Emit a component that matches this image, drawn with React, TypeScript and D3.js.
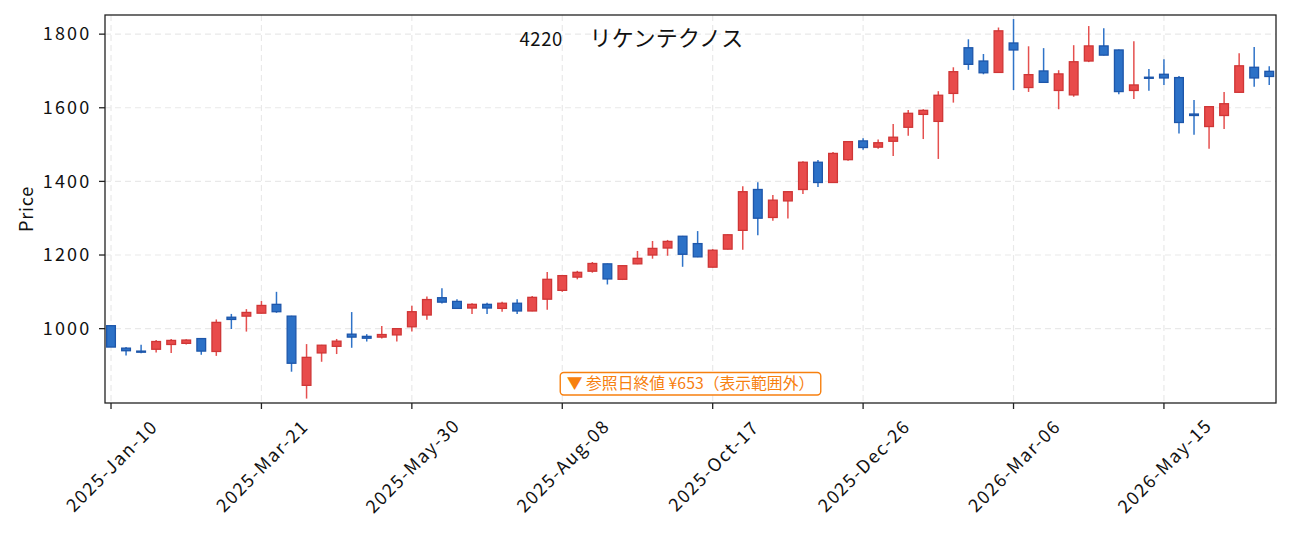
import React, { useEffect, useRef } from 'react';
import * as d3 from 'd3';

// weekly OHLC, one entry per week starting 2025-Jan-10
const opens = [
  1008, 947, 939, 944, 957, 960, 973, 938, 1031, 1034, 1042, 1066, 1034, 846, 934, 952, 985, 979, 977, 983,
  1005, 1037, 1084, 1074, 1056, 1066, 1055, 1069, 1048, 1080, 1104, 1140, 1156, 1176, 1134, 1176, 1200, 1219, 1251, 1231,
  1167, 1216, 1267, 1378, 1302, 1347, 1378, 1452, 1397, 1459, 1510, 1493, 1509, 1547, 1582, 1563, 1639, 1763, 1727, 1696,
  1776, 1655, 1700, 1647, 1635, 1727, 1768, 1757, 1647, 1683, 1691, 1682, 1583, 1549, 1579, 1642, 1710, 1699,
];
const highs = [
  1010, 950, 956, 969, 972, 971, 974, 1025, 1040, 1053, 1075, 1100, 1035, 958, 956, 972, 1045, 985, 1007, 1001,
  1062, 1087, 1110, 1080, 1069, 1070, 1073, 1080, 1089, 1154, 1146, 1157, 1181, 1177, 1172, 1211, 1238, 1241, 1252, 1265,
  1216, 1256, 1387, 1398, 1363, 1373, 1455, 1458, 1480, 1509, 1517, 1514, 1556, 1594, 1596, 1645, 1710, 1786, 1746, 1818,
  1841, 1767, 1762, 1702, 1770, 1822, 1816, 1758, 1781, 1705, 1732, 1686, 1621, 1604, 1643, 1748, 1765, 1713,
];
const lows = [
  950, 927, 933, 935, 934, 957, 929, 926, 999, 992, 1041, 1043, 883, 810, 910, 931, 948, 965, 973, 965,
  992, 1024, 1068, 1054, 1040, 1040, 1046, 1040, 1047, 1051, 1100, 1134, 1152, 1120, 1132, 1175, 1190, 1198, 1168, 1194,
  1166, 1215, 1214, 1254, 1293, 1299, 1366, 1385, 1396, 1456, 1486, 1489, 1469, 1524, 1515, 1461, 1614, 1703, 1691, 1695,
  1648, 1643, 1668, 1596, 1630, 1724, 1742, 1637, 1624, 1646, 1662, 1530, 1527, 1489, 1542, 1641, 1657, 1662,
];
const closes = [
  950, 940, 936, 965, 968, 969, 939, 1017, 1025, 1044, 1063, 1046, 906, 922, 955, 966, 977, 974, 984, 1000,
  1046, 1079, 1072, 1055, 1066, 1056, 1069, 1048, 1085, 1134, 1144, 1153, 1177, 1135, 1171, 1191, 1218, 1237, 1202, 1195,
  1213, 1255, 1372, 1300, 1349, 1372, 1452, 1397, 1476, 1508, 1492, 1505, 1520, 1585, 1593, 1634, 1698, 1718, 1695, 1809,
  1757, 1690, 1669, 1692, 1725, 1768, 1743, 1644, 1662, 1680, 1681, 1560, 1579, 1603, 1611, 1714, 1681, 1685,
];

const tickWeeks = [0, 10, 20, 30, 40, 50, 60, 70];
const tickLabels = [
  '2025-Jan-10', '2025-Mar-21', '2025-May-30', '2025-Aug-08',
  '2025-Oct-17', '2025-Dec-26', '2026-Mar-06', '2026-May-15',
];
const priceTicks = [1000, 1200, 1400, 1600, 1800];

const titleCode = '4220';
const titleName = 'リケンテクノス';
const note = '▼ 参照日終値 ¥653（表示範囲外）';

const W = 1291;
const H = 533;
const font = '"Noto Sans CJK JP", "Noto Sans", sans-serif';

const upFill = '#e84b4b';
const upEdge = '#cf3636';
const downFill = '#2c71c7';
const downEdge = '#1d56aa';
const orange = '#f7800f';

const CandleChart: React.FC = () => {
  const ref = useRef<SVGSVGElement | null>(null);

  useEffect(() => {
    if (!ref.current) return;
    const svg = d3.select(ref.current);
    svg.selectAll('*').remove();

    const left = 105, right = 1276, top = 15, bottom = 403;
    const x = d3.scaleLinear().domain([-0.4, opens.length - 0.55]).range([left, right]);
    const y = d3.scaleLinear().domain([798, 1852]).range([bottom, top]);
    const step = x(1) - x(0);
    const bodyW = step * 0.58;

    svg.append('rect').attr('width', W).attr('height', H).attr('fill', '#fff');

    // grid
    const grid = svg.append('g').attr('stroke', '#e9e9e9').attr('stroke-width', 1.2).attr('stroke-dasharray', '6,4');
    grid.selectAll('line.h').data(priceTicks).enter().append('line')
      .attr('x1', left).attr('x2', right)
      .attr('y1', (d: number) => y(d)).attr('y2', (d: number) => y(d));
    grid.selectAll('line.v').data(tickWeeks).enter().append('line')
      .attr('y1', top).attr('y2', bottom)
      .attr('x1', (d: number) => x(d)).attr('x2', (d: number) => x(d));

    const idx = d3.range(opens.length);
    const isUp = (i: number) => closes[i] >= opens[i];

    // wicks
    svg.append('g').selectAll('line').data(idx).enter().append('line')
      .attr('x1', (i: number) => x(i)).attr('x2', (i: number) => x(i))
      .attr('y1', (i: number) => y(highs[i])).attr('y2', (i: number) => y(lows[i]))
      .attr('stroke', (i: number) => (isUp(i) ? '#e5504f' : '#2f73c8'))
      .attr('stroke-width', 1.5);

    // bodies
    svg.append('g').selectAll('rect').data(idx).enter().append('rect')
      .attr('x', (i: number) => x(i) - bodyW / 2)
      .attr('width', bodyW)
      .attr('y', (i: number) => y(Math.max(opens[i], closes[i])))
      .attr('height', (i: number) => Math.max(1, Math.abs(y(opens[i]) - y(closes[i]))))
      .attr('fill', (i: number) => (isUp(i) ? upFill : downFill))
      .attr('stroke', (i: number) => (isUp(i) ? upEdge : downEdge))
      .attr('stroke-width', 1.3);

    // frame
    svg.append('rect')
      .attr('x', left).attr('y', top).attr('width', right - left).attr('height', bottom - top)
      .attr('fill', 'none').attr('stroke', '#222').attr('stroke-width', 1.3);

    // y axis
    const ya = svg.append('g').attr('font-family', font).attr('font-size', 18).attr('fill', '#111')
      .attr('letter-spacing', 2.2);
    ya.selectAll('line').data(priceTicks).enter().append('line')
      .attr('x1', left - 6).attr('x2', left)
      .attr('y1', (d: number) => y(d)).attr('y2', (d: number) => y(d))
      .attr('stroke', '#222').attr('stroke-width', 1.3);
    ya.selectAll('text').data(priceTicks).enter().append('text')
      .attr('x', left - 13.5).attr('y', (d: number) => y(d))
      .attr('dy', '0.35em').attr('text-anchor', 'end')
      .text((d: number) => d);

    // x axis
    const xa = svg.append('g').attr('font-family', font).attr('font-size', 18).attr('fill', '#111')
      .attr('letter-spacing', 1.6);
    xa.selectAll('line').data(tickWeeks).enter().append('line')
      .attr('x1', (d: number) => x(d)).attr('x2', (d: number) => x(d))
      .attr('y1', bottom).attr('y2', bottom + 6)
      .attr('stroke', '#222').attr('stroke-width', 1.3);
    xa.selectAll('text').data(tickWeeks).enter().append('text')
      .attr('transform', (d: number) => `translate(${x(d) + 1},${466}) rotate(-45)`)
      .attr('text-anchor', 'middle').attr('dy', '0.35em')
      .text((_d: number, i: number) => tickLabels[i]);

    svg.append('text')
      .attr('transform', `translate(33,${(top + bottom) / 2}) rotate(-90)`)
      .attr('text-anchor', 'middle')
      .attr('font-family', font).attr('font-size', 18).attr('fill', '#111')
      .attr('letter-spacing', 0.8)
      .text('Price');

    const tt = svg.append('text')
      .attr('y', 45.7)
      .attr('font-family', font).attr('fill', '#111');
    tt.append('tspan').attr('x', 519.5).attr('font-size', 18.5).attr('letter-spacing', 0.6).text(titleCode);
    tt.append('tspan').attr('x', 589.5).attr('font-size', 22).attr('letter-spacing', 0.3).text(titleName);

    // out-of-range note
    const ng = svg.append('g');
    const nt = ng.append('text')
      .attr('x', (left + right) / 2).attr('y', 383.5).attr('dy', '0.35em')
      .attr('text-anchor', 'middle')
      .attr('font-family', font).attr('font-size', 15.8).attr('fill', orange)
      .text(note);
    const bb = (nt.node() as SVGTextElement).getBBox();
    ng.insert('rect', 'text')
      .attr('x', bb.x - 6.5).attr('y', 372.5).attr('width', bb.width + 13).attr('height', 22.5)
      .attr('rx', 3.5).attr('fill', '#fff').attr('stroke', orange).attr('stroke-width', 1.4);
  }, []);

  return <svg ref={ref} width={W} height={H} style={{ position: 'absolute', left: 0, top: 0 }} />;
};

export default function App() {
  return <CandleChart />;
}
